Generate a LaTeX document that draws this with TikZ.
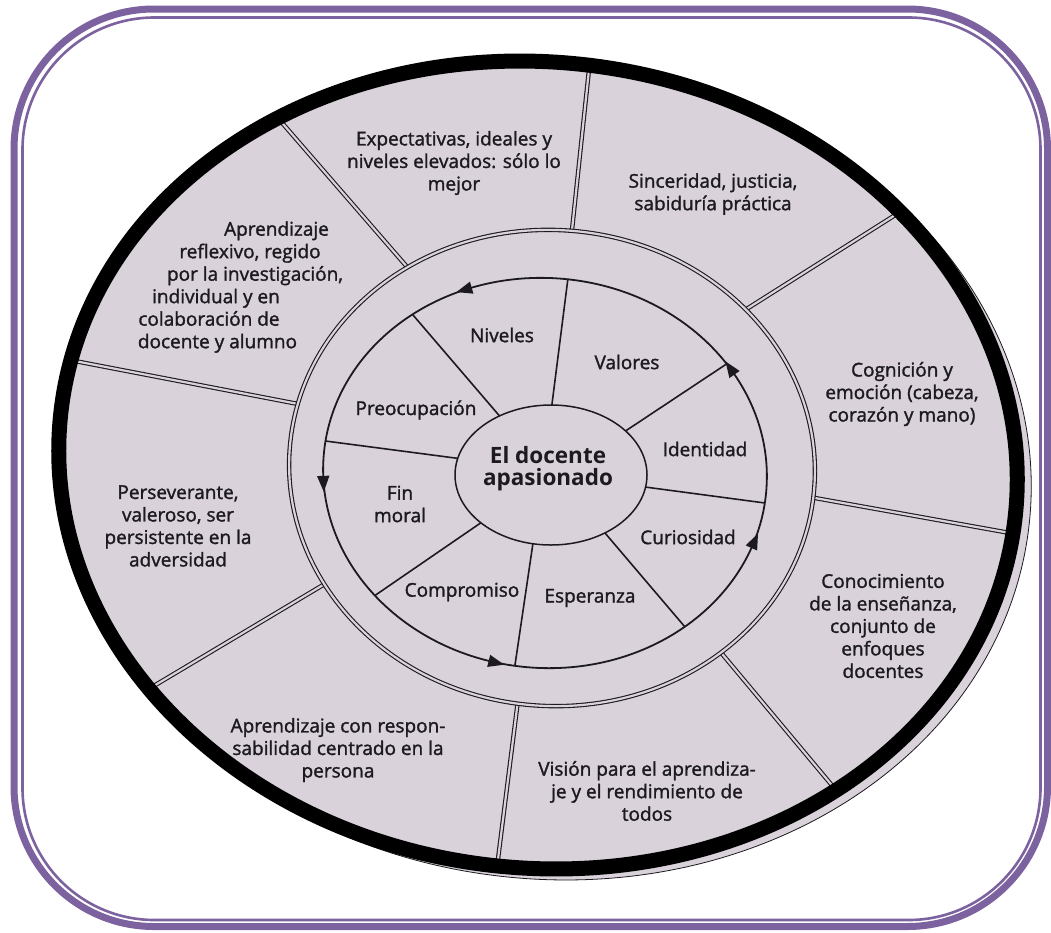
\documentclass[tikz,border=0pt]{standalone}
\usepackage{fontspec}
\setmainfont{Open Sans}
\newfontfamily\lblfont{Open Sans}[FakeBold=1.5]
\usetikzlibrary{calc,decorations.markings,arrows.meta,shapes.geometric}
\definecolor{purp}{RGB}{125,98,160}
\definecolor{paper}{RGB}{217,210,219}
\definecolor{paperdark}{RGB}{160,155,162}
\definecolor{ink}{RGB}{28,26,30}
\pgfdeclarehorizontalshading{papershade}{100bp}{color(0bp)=(paperdark); color(14bp)=(paper); color(100bp)=(paper)}
\tikzset{
  frameouter/.style={draw=purp, line width=7pt, rounded corners=140pt},
  frameinner/.style={draw=purp, line width=2.6pt, rounded corners=132pt},
  dbl/.style={draw=ink, line width=1.1pt, double=paper, double distance=2.2pt},
  spoke/.style={draw=ink, line width=1.6pt},
  lbl/.style={font=\lblfont\fontsize{19}{22.5}\selectfont, align=center, text=ink, inner sep=0pt},
  corelbl/.style={font=\fontsize{22.5}{22}\selectfont\bfseries, align=center, text=ink, inner sep=0pt},
  coreshape/.style={ellipse, draw=ink, line width=1.5pt, fill=paper, minimum width=192pt, minimum height=140pt, inner sep=0pt},
  rimstroke/.style={draw=black, line width=15pt},
  tipstyle/.style={}
}
\begin{document}
\begin{tikzpicture}[x=1pt,y=-1pt]
\useasboundingbox (0,0) rectangle (1051,932);
\fill[white] (0,0) rectangle (1051,932);
% frame
\path[frameouter] (14,9) rectangle (1047.5,926.5);
\path[frameinner] (22.5,17.5) rectangle (1040.5,920);
% paper edge peeking out at the lower right
\filldraw[fill=paper, draw=ink, line width=0.8pt, rotate around={-6:(548,472)}] (548,472) ellipse [x radius=484, y radius=407];
% paper
\shade[shading=papershade, rotate around={-6:(538,465)}] (538,465) ellipse [x radius=480, y radius=403];
% outer spokes
\coordinate (op1) at (572,230); \coordinate (oq1) at (590,60);
\coordinate (op2) at (408,268); \coordinate (oq2) at (290,132);
\coordinate (op3) at (293,403); \coordinate (oq3) at (80,362);
\coordinate (op4) at (318,588); \coordinate (oq4) at (147,690);
\coordinate (op5) at (517,708); \coordinate (oq5) at (497,867);
\coordinate (op6) at (723,655); \coordinate (oq6) at (830,783);
\coordinate (op7) at (815,498); \coordinate (oq7) at (1010,533);
\coordinate (op8) at (745,310); \coordinate (oq8) at (900,212);
\begin{scope}
\clip[rotate around={-6:(538,465)}] (538,465) ellipse [x radius=480, y radius=403];
\foreach \i in {1,...,8} \draw[dbl] ($(op\i)!-0.2!(oq\i)$) -- ($(oq\i)!-0.2!(op\i)$);
\end{scope}
% ring
\fill[paper, rotate around={-4:(552,468)}] (552,468) ellipse [x radius=263, y radius=238];
\draw[dbl, rotate around={-4:(552,468)}] (552,468) ellipse [x radius=263, y radius=238];
% inner spokes
\coordinate (ip1) at (497,413); \coordinate (iq1) at (413,315);
\coordinate (ip2) at (552,404); \coordinate (iq2) at (568,278);
\coordinate (ip3) at (627,430); \coordinate (iq3) at (728,363);
\coordinate (ip4) at (645,487); \coordinate (iq4) at (765,503);
\coordinate (ip5) at (605,533); \coordinate (iq5) at (685,627);
\coordinate (ip6) at (533,543); \coordinate (iq6) at (515,665);
\coordinate (ip7) at (482,522); \coordinate (iq7) at (380,592);
\coordinate (ip8) at (455,458); \coordinate (iq8) at (333,442);
\begin{scope}
\clip[rotate around={-4:(545,473)}] (545,473) ellipse [x radius=222, y radius=195];
\foreach \i in {1,...,8} \draw[spoke] ($(ip\i)!-0.3!(iq\i)$) -- ($(iq\i)!-0.2!(ip\i)$);
\end{scope}
% core
\node[coreshape] (core) at (551,475) {};
\node[corelbl] (coretxt) at (548,469) {El docente\\apasionado};
% arrow circle
\draw[spoke, line width=1.8pt, color=ink, rotate around={-4:(545,473)}, postaction={decorate},
  decoration={markings,
    mark=at position 0.047 with {\arrow{Triangle[reversed,length=16pt,width=12pt]}},
    mark=at position 0.283 with {\arrow{Triangle[reversed,length=16pt,width=12pt]}},
    mark=at position 0.486 with {\arrow{Triangle[reversed,length=16pt,width=12pt]}},
    mark=at position 0.683 with {\arrow{Triangle[reversed,length=16pt,width=12pt]}},
    mark=at position 0.908 with {\arrow{Triangle[reversed,length=16pt,width=12pt]}}}]
  (545,473) ellipse [x radius=222, y radius=195];
% inner labels
\node[lbl] (niv) at (502,335) {Niveles};
\node[lbl] (val) at (627,362) {Valores};
\node[lbl] (ide) at (705,449) {Identidad};
\node[lbl] (cur) at (688,537) {Curiosidad};
\node[lbl] (esp) at (590,598) {Esperanza};
\node[lbl] (com) at (462,592) {Compromiso};
\node[lbl] (fin) at (400,504) {Fin\\moral};
\node[lbl] (pre) at (416,410) {Preocupación};
% outer labels
\node[lbl] (t1) at (454,163) {Expectativas, ideales y\\niveles elevados: sólo lo\\mejor};
\node[lbl] (t2) at (713,194) {Sinceridad, justicia,\\sabiduría práctica};
\node[lbl] (t3) at (902,394) {Cognición y\\emoción (cabeza,\\corazón y mano)};
\node[lbl] (t4) at (883,626) {Conocimiento\\de la enseñanza,\\conjunto de\\enfoques\\docentes};
\node[lbl] (t5) at (647,791) {Visión para el aprendiza-\\je y el rendimiento de\\todos};
\node[lbl] (t6) at (338,750) {Aprendizaje con respon-\\sabilidad centrado en la\\persona};
\node[lbl] (t7) at (178,526) {Perseverante,\\valeroso, ser\\persistente en la\\adversidad};
\node[lbl] (t8) at (230,287) {\hspace*{93pt}Aprendizaje\\\hspace*{40pt}reflexivo, regido\\\hspace*{50pt}por la investigación,\\\hspace*{-28pt}individual y en\\\hspace*{-42pt}colaboración de\\\hspace*{-25pt}docente y alumno};
% black rim
\draw[rimstroke, rotate around={-6:(538,465)}] (538,465) ellipse [x radius=480, y radius=403];
\end{tikzpicture}
\end{document}
